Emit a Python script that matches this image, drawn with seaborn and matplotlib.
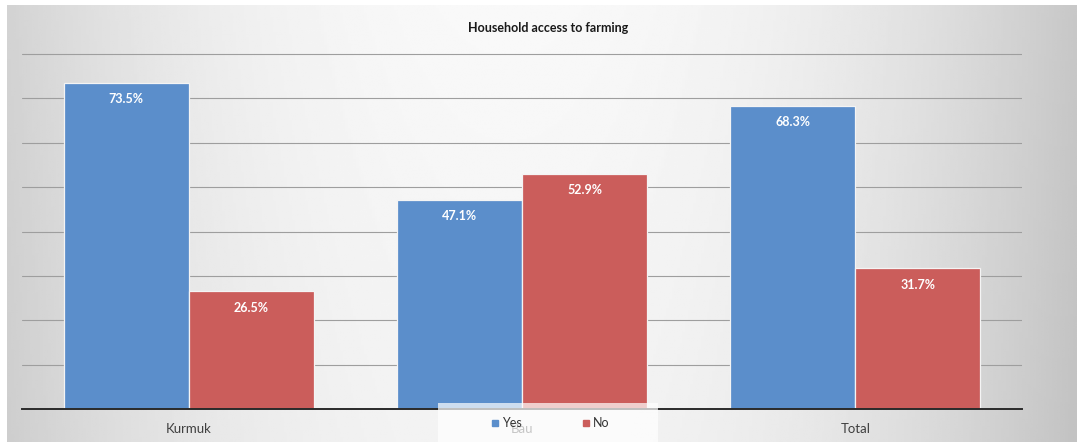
import numpy as np
import pandas as pd
import matplotlib
matplotlib.use("Agg")
import matplotlib.pyplot as plt
import seaborn as sns
from matplotlib.lines import Line2D
from matplotlib.patches import Rectangle

# Survey data: share of households with access to farming
sites = ["Kurmuk", "Bau", "Total"]
responses = ["Yes", "No"]
yes_pct = [73.5, 47.1, 68.3]
no_pct = [26.5, 52.9, 31.7]
bar_colors = ["#5B8ECB", "#CB5D5B"]

df = pd.DataFrame({
    "site": sites * 2,
    "response": [responses[0]] * len(sites) + [responses[1]] * len(sites),
    "pct": yes_pct + no_pct,
})

sns.set_theme(style="white")
plt.rcParams["font.family"] = ["Lato", "DejaVu Sans"]

W, H = 1077, 442
fig = plt.figure(figsize=(W / 100, H / 100), dpi=100)
fig.patch.set_facecolor("white")

# Soft grey backdrop, brighter in the middle and darker at the sides
bg = fig.add_axes([7 / W, 0, 1 - 7 / W, 1 - 5 / H], zorder=0)
gx = np.linspace(0, 1, 400)
gy = np.linspace(0, 1, 200)
X, Y = np.meshgrid(gx, gy)
shade = 0.955 - 0.17 * (np.abs(X - 0.47) * 2.0) ** 2.2 + 0.02 * (1 - Y)
shade = np.clip(shade, 0, 1)
bg.imshow(shade, cmap="gray", vmin=0, vmax=1, aspect="auto",
          extent=[0, 1, 0, 1], origin="upper")
bg.set_axis_off()

# Plot area: baseline at 0 %, 80 % gridline near the top
px_per_pct = 355 / 80
ymax = 82
ax_h = ymax * px_per_pct
ax = fig.add_axes([22 / W, 1 - 409 / H, 1000 / W, ax_h / H], zorder=1)
ax.patch.set_alpha(0)

sns.barplot(data=df, x="site", y="pct", hue="response", hue_order=responses,
            palette=bar_colors, width=0.75, saturation=1, ax=ax,
            edgecolor="#f4f4f4", linewidth=0.9, legend=False)

ax.set_xlim(-0.5, 2.5)
ax.set_ylim(0, ymax)
ax.set_yticks(np.arange(10, 81, 10))
ax.yaxis.grid(True, color="#9e9e9e", linewidth=0.8)
ax.set_axisbelow(True)
ax.tick_params(axis="y", left=False, labelleft=False)
ax.tick_params(axis="x", bottom=False, labelsize=9.5, labelcolor="#404040", pad=4)
ax.set_xlabel("")
ax.set_ylabel("")
for side in ["top", "left", "right"]:
    ax.spines[side].set_visible(False)
ax.spines["bottom"].set_color("#2a2a2a")
ax.spines["bottom"].set_linewidth(1.4)

# Value labels inside the top of each bar
for cont, vals in zip(ax.containers, [yes_pct, no_pct]):
    ax.bar_label(cont, labels=[f"{v:.1f}%" for v in vals], padding=-16,
                 color="white", fontweight="bold", fontsize=9)

fig.text(548 / W, 1 - 28 / H, "Household access to farming", ha="center",
         va="center", fontsize=9, fontweight="bold", color="#1a1a1a")

# Translucent legend panel at the bottom centre
panel = Rectangle((438 / W, 0), 220 / W, 39 / H, transform=fig.transFigure,
                  facecolor="white", alpha=0.7, edgecolor="none", zorder=4)
fig.patches.append(panel)

handles = [Line2D([], [], marker="s", linestyle="none", markersize=5,
                  markerfacecolor=c, markeredgecolor=c) for c in bar_colors]
leg = fig.legend(handles, responses, loc="center",
                 bbox_to_anchor=(549 / W, 1 - 423 / H), ncol=2, frameon=False,
                 fontsize=9, handletextpad=0.1, columnspacing=4.6,
                 borderpad=0, borderaxespad=0, handlelength=1.0)
leg.set_zorder(5)
for t in leg.get_texts():
    t.set_color("#333333")

fig.savefig("out.png", dpi=100)
